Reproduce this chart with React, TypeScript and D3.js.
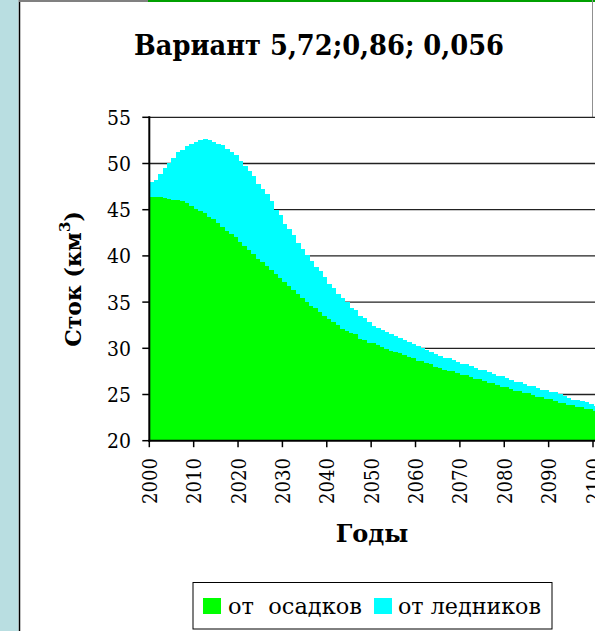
import React from "react";
import * as d3 from "d3";

const startYear = 2000;
const endYear = 2100;

// Сток от осадков (км³), по годам 2000–2100
const precip = [
  46.4, 46.4, 46.35, 46.3, 46.15, 46.1, 46.0, 45.95, 45.7, 45.4,
  45.1, 44.9, 44.6, 44.2, 44.0, 43.6, 43.1, 42.7, 42.4, 42.0,
  41.5, 41.1, 40.6, 40.2, 39.7, 39.3, 38.9, 38.5, 38.0, 37.6,
  37.2, 36.7, 36.35, 35.9, 35.45, 35.0, 34.6, 34.35, 33.95, 33.5,
  33.2, 32.8, 32.55, 32.1, 31.9, 31.7, 31.5, 31.05, 30.85, 30.6,
  30.6, 30.4, 30.15, 29.95, 29.75, 29.55, 29.5, 29.3, 29.1, 28.9,
  28.65, 28.65, 28.45, 28.25, 28.0, 27.9, 27.7, 27.55, 27.55, 27.35,
  27.1, 27.1, 26.9, 26.7, 26.7, 26.45, 26.25, 26.25, 26.05, 25.8,
  25.8, 25.6, 25.4, 25.4, 25.15, 25.15, 24.95, 24.75, 24.7, 24.5,
  24.5, 24.3, 24.1, 24.05, 23.85, 23.85, 23.65, 23.65, 23.45, 23.4,
  23.2,
];

// Сток от ледников (км³), по годам 2000–2100
const glacier = [
  1.6, 1.8, 2.55, 3.2, 3.95, 4.5, 5.2, 5.55, 6.2, 6.7,
  7.2, 7.65, 8.0, 8.35, 8.3, 8.5, 8.95, 8.9, 8.8, 8.9,
  8.8, 8.6, 8.6, 8.45, 8.1, 7.9, 7.8, 7.4, 7.0, 6.8,
  6.3, 6.2, 5.95, 5.5, 5.3, 5.1, 4.85, 4.45, 4.45, 4.2,
  3.75, 3.7, 3.35, 3.35, 3.1, 2.65, 2.65, 2.45, 2.45, 2.25,
  1.8, 1.8, 1.85, 1.8, 1.8, 1.8, 1.6, 1.6, 1.6, 1.55,
  1.6, 1.4, 1.35, 1.35, 1.4, 1.25, 1.25, 1.35, 1.2, 1.15,
  1.2, 1.2, 1.2, 1.15, 0.95, 1.2, 1.2, 0.95, 0.95, 1.2,
  1.0, 0.95, 0.95, 0.95, 1.0, 0.75, 0.95, 0.95, 0.8, 1.0,
  0.75, 0.95, 0.95, 0.8, 0.8, 0.6, 0.75, 0.7, 0.7, 0.55,
  0.55,
];

const yTicks = [20, 25, 30, 35, 40, 45, 50, 55];
const xTicks = [2000, 2010, 2020, 2030, 2040, 2050, 2060, 2070, 2080, 2090, 2100];
const seriesNames = ["от  осадков", "от ледников"];
const seriesColors = ["#00FF00", "#00FFFF"];
const title = "Вариант 5,72;0,86; 0,056";
const yTitle = "Сток (км";
const xTitle = "Годы";

export default function App() {
  const W = 595;
  const H = 631;
  const left = 149.3;
  const right = 593;
  const top = 117.3;
  const bottom = 440.7;

  const x = d3.scaleLinear().domain([startYear, endYear]).range([left, right]);
  const y = d3.scaleLinear().domain([20, 55]).range([bottom, top]);
  const bw = x(startYear + 1) - x(startYear);

  const rows = d3.range(startYear, endYear + 1).map((yr, i) => ({
    year: yr,
    precip: precip[i],
    glacier: glacier[i],
  }));
  const stacked = d3.stack<any>().keys(["precip", "glacier"])(rows);

  const serif = "'DejaVu Serif', serif";

  return (
    <div style={{ position: "fixed", left: 0, top: 0, width: W, height: H, background: "#fff" }}>
      <svg width={W} height={H} style={{ display: "block", fontFamily: serif }}>
        <rect x={0} y={0} width={W} height={H} fill="#fff" />
        {/* left pale panel */}
        <rect x={0} y={0} width={18.5} height={H} fill="#B9DEE1" />
        <line x1={19.5} x2={19.5} y1={0} y2={H} stroke="#000" strokeWidth={1.5} />
        {/* top border */}
        <line x1={19} x2={148} y1={1} y2={1} stroke="#808080" strokeWidth={2} />
        <line x1={148} x2={W} y1={1} y2={1} stroke="#00A000" strokeWidth={2} />
        <line x1={592.5} x2={592.5} y1={0} y2={top} stroke="#909090" strokeWidth={1} />

        {/* title */}
        <text x={319} y={55} textAnchor="middle" textLength={370} lengthAdjust="spacingAndGlyphs"
          style={{ fontFamily: serif, fontWeight: "bold", fontSize: 28 }}>
          {title}
        </text>

        {/* gridlines */}
        {yTicks.filter((t) => t > 20).map((t) => (
          <line key={"g" + t} x1={left} x2={W} y1={y(t)} y2={y(t)} stroke="#222" strokeWidth={1.3} />
        ))}

        {/* stacked columns */}
        <g shapeRendering="crispEdges">
          {stacked.map((s: any, si: number) => (
            <g key={si} fill={seriesColors[si]}>
              {s.map((d: any, i: number) => {
                const y0 = Math.max(d[0], 20);
                const y1 = d[1];
                return (
                  <rect
                    key={i}
                    x={x(rows[i].year)}
                    width={bw + 0.6}
                    y={y(y1)}
                    height={y(y0) - y(y1)}
                  />
                );
              })}
            </g>
          ))}
        </g>

        {/* y axis */}
        <line x1={left} x2={left} y1={top - 1} y2={bottom + 1} stroke="#000" strokeWidth={2} />
        {yTicks.map((t) => (
          <g key={"y" + t}>
            <line x1={left - 7} x2={left} y1={y(t)} y2={y(t)} stroke="#000" strokeWidth={1.5} />
            <text x={131} y={y(t)} dy="0.36em" textAnchor="end" textLength={24} lengthAdjust="spacingAndGlyphs"
              style={{ fontFamily: serif, fontSize: 21 }}>
              {t}
            </text>
          </g>
        ))}

        {/* x axis */}
        <line x1={left - 1} x2={W} y1={bottom} y2={bottom} stroke="#000" strokeWidth={2} />
        {xTicks.map((t) => (
          <g key={"x" + t}>
            <line x1={x(t)} x2={x(t)} y1={bottom} y2={bottom + 6.5} stroke="#000" strokeWidth={1.5} />
            <text
              transform={`translate(${x(t)},458) rotate(-90)`}
              dy="0.36em"
              textAnchor="end"
              textLength={46}
              lengthAdjust="spacingAndGlyphs"
              style={{ fontFamily: serif, fontSize: 21 }}
            >
              {t}
            </text>
          </g>
        ))}

        {/* axis titles */}
        <text
          transform={`translate(81,${(top + bottom) / 2}) rotate(-90)`}
          textAnchor="middle"
          style={{ fontFamily: serif, fontWeight: "bold", fontSize: 22 }}
        >
          {yTitle}
          <tspan style={{ fontSize: 15 }} dy={-11}>3</tspan>
          <tspan dy={11}>)</tspan>
        </text>
        <text x={372} y={542} textAnchor="middle" style={{ fontFamily: serif, fontWeight: "bold", fontSize: 24 }}>
          {xTitle}
        </text>

        {/* legend */}
        <rect x={193} y={582.5} width={359} height={46.5} fill="#fff" stroke="#000" strokeWidth={1} />
        <rect x={203} y={598} width={18} height={16} fill={seriesColors[0]} />
        <text x={228} y={614} textLength={134} lengthAdjust="spacingAndGlyphs"
          style={{ fontFamily: serif, fontSize: 22, whiteSpace: "pre" }}>
          {seriesNames[0]}
        </text>
        <rect x={374} y={598} width={18} height={16} fill={seriesColors[1]} />
        <text x={398} y={614} textLength={143} lengthAdjust="spacingAndGlyphs"
          style={{ fontFamily: serif, fontSize: 22, whiteSpace: "pre" }}>
          {seriesNames[1]}
        </text>
      </svg>
    </div>
  );
}
